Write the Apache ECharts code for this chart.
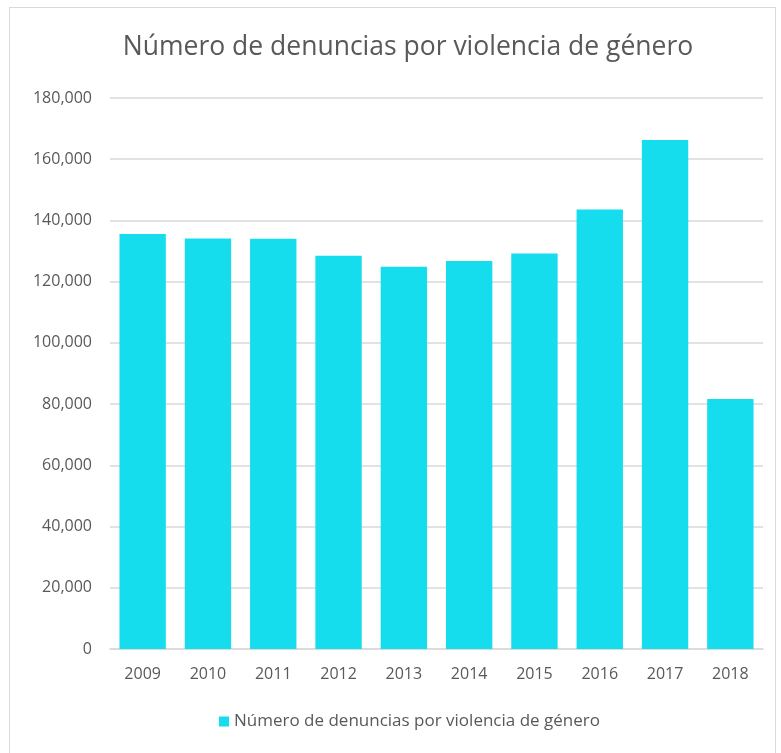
<!DOCTYPE html>
<html>
<head>
<meta charset="utf-8">
<script src="https://cdn.jsdelivr.net/npm/echarts@6/dist/echarts.min.js"></script>
<style>
  html, body { margin: 0; padding: 0; background: #fff; }
  #frame { position: absolute; left: 9px; top: 7px; width: 767px; height: 760px; border: 1px solid #d9d9d9; box-sizing: border-box; }
  #chart { position: absolute; left: 0; top: 0; width: 781px; height: 753px; }
</style>
</head>
<body>
<div id="frame"></div>
<div id="chart"></div>
<script>
// datos
const years = ['2009', '2010', '2011', '2012', '2013', '2014', '2015', '2016', '2017', '2018'];
const denuncias = [135540, 134105, 134002, 128477, 124893, 126742, 129193, 143535, 166260, 81660];
const seriesName = 'Número de denuncias por violencia de género';

const chart = echarts.init(document.getElementById('chart'));
const font = '"Open Sans", sans-serif';

chart.setOption({
  animation: false,
  title: {
    text: 'Número de denuncias por violencia de género',
    left: 403,
    textAlign: 'center',
    top: 29,
    textStyle: { fontFamily: font, fontSize: 26.5, fontWeight: 'normal', color: '#595959' }
  },
  legend: {
    bottom: 18,
    left: 214,
    itemWidth: 10,
    itemHeight: 10,
    itemGap: 4,
    icon: 'rect',
    textStyle: { fontFamily: font, fontSize: 17, color: '#595959' },
    data: [seriesName]
  },
  grid: { left: 110, right: 18, top: 98, bottom: 104 },
  xAxis: {
    type: 'category',
    data: years,
    axisLine: { lineStyle: { color: '#d9d9d9', width: 1.5 } },
    axisTick: { show: false },
    axisLabel: { fontFamily: font, fontSize: 16, color: '#595959', margin: 17 }
  },
  yAxis: {
    type: 'value',
    min: 0,
    max: 180000,
    interval: 20000,
    axisLine: { show: false },
    axisTick: { show: false },
    splitLine: { lineStyle: { color: '#d9d9d9', width: 1.5 } },
    axisLabel: {
      fontFamily: font, fontSize: 16, color: '#595959', margin: 18,
      formatter: v => v.toLocaleString('en-US')
    }
  },
  series: [{
    name: seriesName,
    type: 'bar',
    data: denuncias,
    barCategoryGap: '29%',
    itemStyle: { color: '#15DDED' }
  }]
});
</script>
</body>
</html>
